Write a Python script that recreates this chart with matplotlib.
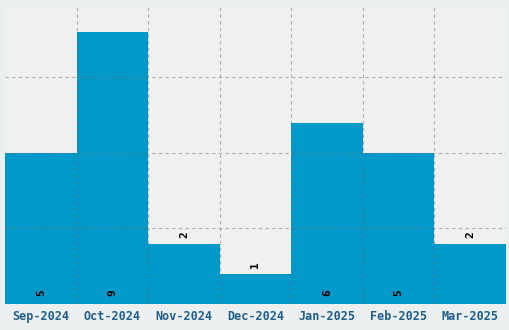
import numpy as np
import matplotlib
matplotlib.use('Agg')
import matplotlib.pyplot as plt

months = ['Sep-2024', 'Oct-2024', 'Nov-2024', 'Dec-2024', 'Jan-2025', 'Feb-2025', 'Mar-2025']
counts = [5, 9, 2, 1, 6, 5, 2]

fig = plt.figure(figsize=(5.1, 3.3), dpi=100, facecolor='#ECEFF0')
ax = fig.add_axes([5/510, 1 - 304/330, 501/510, 299/330])
ax.set_facecolor('#F0F0F0')

x = np.arange(len(months))
ax.bar(x, counts, width=1.0, color='#0099C9', zorder=2)

ax.set_xlim(-0.5, len(months) - 0.5)
ax.set_ylim(0, max(counts) * 1.1)
ax.set_xticks(x)
ax.set_xticklabels(months, family='DejaVu Sans Mono', fontweight='bold',
                   fontsize=8.5, color='#1F5E8C')
ax.set_xticks(x[:-1] + 0.5, minor=True)
ax.set_yticks([2.5, 5, 7.5])
ax.set_yticklabels([])
ax.tick_params(axis='both', which='both', length=0, pad=4)
ax.grid(axis='y', which='major', color='#707070', alpha=0.5, linestyle=(0, (3, 3)), linewidth=0.8, zorder=3)
ax.grid(axis='x', which='minor', color='#707070', alpha=0.5, linestyle=(0, (3, 3)), linewidth=0.8, zorder=3)
ax.grid(axis='x', which='major', visible=False)
ax.set_axisbelow(False)
for s in ax.spines.values():
    s.set_visible(False)

for xi, c in zip(x, counts):
    if c >= 4:
        ax.text(xi, 0.25, str(c), rotation=90, ha='center', va='bottom',
                family='DejaVu Sans Mono', fontweight='bold', fontsize=8, color='black', zorder=4)
    else:
        ax.text(xi, c + 0.2, str(c), rotation=90, ha='center', va='bottom',
                family='DejaVu Sans Mono', fontweight='bold', fontsize=8, color='black', zorder=4)

plt.savefig('out.png', dpi=100, facecolor=fig.get_facecolor())
